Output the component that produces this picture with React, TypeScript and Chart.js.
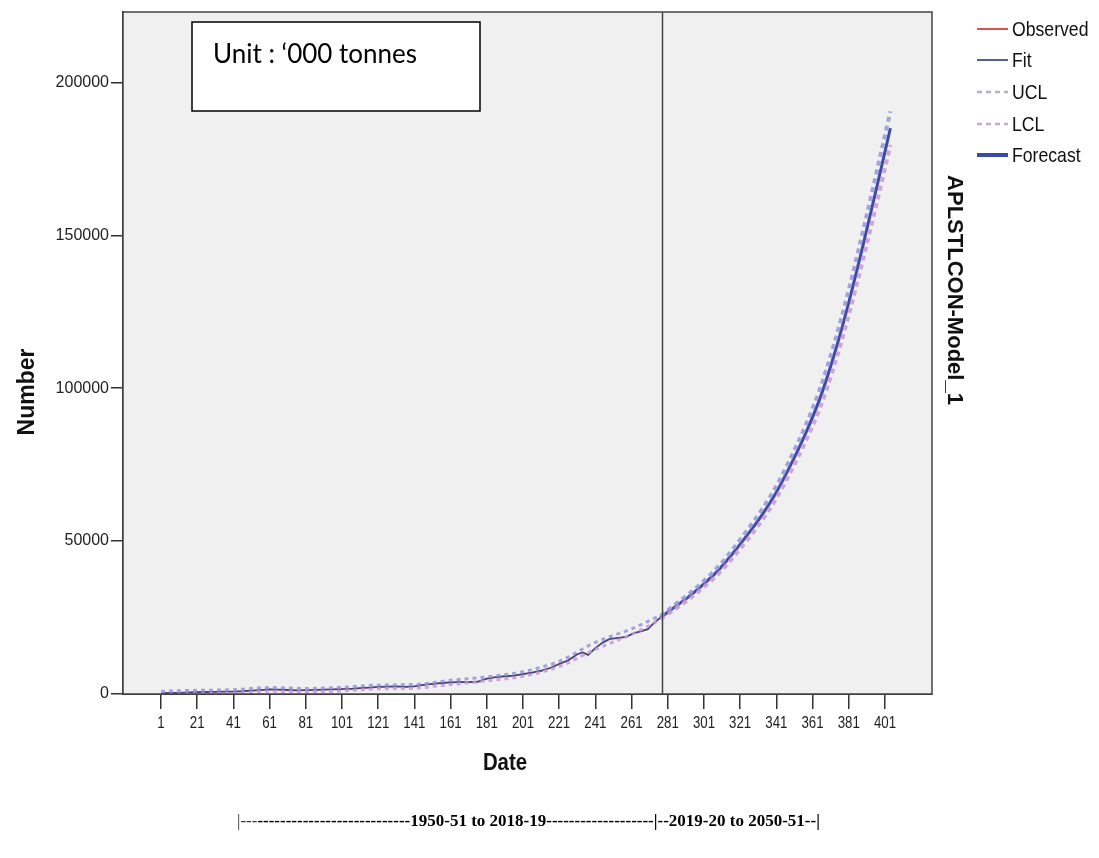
import React, { useEffect, useRef } from "react";
import { Chart, registerables } from "chart.js";
Chart.register(...registerables);

// ---------- data ----------
const obsX = [1, 6, 11, 16, 21, 26, 31, 36, 41, 46, 51, 56, 61, 66, 71, 76, 81, 86, 91, 96, 101, 106, 111, 116, 121, 126, 131, 136, 141, 146, 151, 156, 161, 166, 171, 176, 181, 186, 191, 196, 201, 206, 211, 216, 221, 226, 231, 234, 237, 241, 245, 249, 253, 258, 262, 266, 270, 273, 277];
const obsY = [300, 350, 400, 500, 600, 650, 700, 750, 800, 900, 1100, 1300, 1500, 1400, 1300, 1200, 1250, 1350, 1450, 1500, 1600, 1700, 1900, 2100, 2300, 2400, 2500, 2300, 2500, 3000, 3300, 3600, 3800, 3900, 3900, 4000, 5000, 5500, 5800, 6000, 6500, 7000, 7600, 8500, 9800, 11000, 13000, 13600, 12800, 15000, 16800, 18000, 18300, 18700, 19800, 20500, 21200, 23000, 25000];

const bandHistX = [1, 21, 41, 61, 81, 101, 121, 141, 161, 181, 201, 221, 241, 261, 277];
const uclHist = [900, 1200, 1400, 2100, 1800, 2200, 2900, 3100, 4500, 5600, 7300, 10700, 16900, 21300, 25700];
const lclHist = [0, 100, 300, 900, 700, 1000, 1700, 1900, 3100, 4300, 5800, 9000, 14600, 19500, 24300];

const fcX = [277, 285, 293, 301, 309, 317, 325, 333, 341, 349, 357, 365, 373, 381, 389, 397, 404];
const fcY = [25000, 28500, 32000, 36000, 40500, 46000, 52000, 58500, 66000, 75000, 85000, 96500, 111000, 128000, 147000, 167000, 185000];
const uclFc = [25500, 29200, 32900, 37000, 41700, 47400, 53600, 60300, 68000, 77300, 87600, 99600, 114600, 132100, 151700, 172200, 190500];
const lclFc = [24500, 27800, 31100, 35000, 39300, 44600, 50400, 56700, 64000, 72700, 82400, 93400, 107400, 123900, 142300, 161800, 179500];

const xTicks = [1, 21, 41, 61, 81, 101, 121, 141, 161, 181, 201, 221, 241, 261, 281, 301, 321, 341, 361, 381, 401];
const yTicks = [0, 50000, 100000, 150000, 200000];
const forecastStart = 277.6;

const legendLabels = ["Observed", "Fit", "UCL", "LCL", "Forecast"];
const seriesTitle = "APLSTLCON-Model_1";
const unitText = "Unit : \u2018000 tonnes";
const periodText = "---------------------------1950-51 to 2018-19-------------------|--2019-20 to 2050-51--|";

const pts = (xs: number[], ys: number[]) => xs.map((x, i) => ({ x, y: ys[i] }));

const C_OBS = "#d9534f";
const C_FIT = "#45457a";
const C_UCL = "rgba(150,150,215,0.85)";
const C_LCL = "rgba(200,150,215,0.85)";
const C_FC = "#3b4aa6";
const SANS = '"Liberation Sans", Arial, sans-serif';

function narrowText(ctx: CanvasRenderingContext2D, text: string, x: number, y: number, sx: number) {
  ctx.save();
  ctx.translate(x, y);
  ctx.scale(sx, 1);
  ctx.fillText(text, 0, 0);
  ctx.restore();
}

export default function App() {
  const ref = useRef<HTMLCanvasElement>(null);
  useEffect(() => {
    if (!ref.current) return;
    const overlay = {
      id: "overlay",
      beforeDatasetsDraw(chart: any) {
        const { ctx, chartArea: a } = chart;
        ctx.save();
        ctx.fillStyle = "#f0f0f0";
        ctx.fillRect(a.left, a.top, a.right - a.left, a.bottom - a.top);
        ctx.restore();
      },
      afterDatasetsDraw(chart: any) {
        const { ctx, chartArea: a, scales } = chart;
        ctx.save();
        const vx = Math.round(scales.x.getPixelForValue(forecastStart)) + 0.5;
        ctx.strokeStyle = "#444";
        ctx.lineWidth = 1.5;
        ctx.beginPath();
        ctx.moveTo(vx, a.top);
        ctx.lineTo(vx, a.bottom);
        ctx.stroke();
        ctx.strokeStyle = "#444";
        ctx.lineWidth = 1.5;
        ctx.strokeRect(a.left, a.top, a.right - a.left, a.bottom - a.top);
        // unit box
        ctx.fillStyle = "#ffffff";
        ctx.fillRect(192, 22, 288, 89);
        ctx.strokeStyle = "#000";
        ctx.lineWidth = 1.5;
        ctx.strokeRect(192, 22, 288, 89);
        ctx.fillStyle = "#000";
        ctx.font = "26px Lato";
        ctx.textBaseline = "alphabetic";
        ctx.textAlign = "left";
        ctx.fillText(unitText, 213, 63);
        ctx.restore();
      },
      afterDraw(chart: any) {
        const { ctx, scales } = chart;
        ctx.save();
        // x tick labels (narrow)
        ctx.fillStyle = "#222";
        ctx.font = "17px " + SANS;
        ctx.textAlign = "center";
        ctx.textBaseline = "middle";
        xTicks.forEach((v) => {
          narrowText(ctx, String(v), scales.x.getPixelForValue(v), 723, 0.78);
        });
        // legend
        const ys = [29, 60, 92, 124, 155];
        const styles = [
          { c: C_OBS, w: 2, d: [] as number[] },
          { c: "#55608f", w: 2, d: [] as number[] },
          { c: "#b0b0c8", w: 2.5, d: [5, 4] },
          { c: "#c8a8d0", w: 2.5, d: [5, 4] },
          { c: C_FC, w: 4, d: [] as number[] },
        ];
        legendLabels.forEach((lab, i) => {
          const s = styles[i];
          ctx.strokeStyle = s.c;
          ctx.lineWidth = s.w;
          ctx.setLineDash(s.d);
          ctx.beginPath();
          ctx.moveTo(977, ys[i]);
          ctx.lineTo(1008, ys[i]);
          ctx.stroke();
          ctx.setLineDash([]);
          ctx.fillStyle = "#111";
          ctx.font = "21px " + SANS;
          ctx.textBaseline = "middle";
          ctx.textAlign = "left";
          narrowText(ctx, lab, 1012, ys[i] + 1, 0.84);
        });
        // right series title
        ctx.save();
        ctx.translate(954, 290);
        ctx.rotate(Math.PI / 2);
        ctx.fillStyle = "#111";
        ctx.font = "bold 22px " + SANS;
        ctx.textAlign = "center";
        ctx.textBaseline = "middle";
        ctx.fillText(seriesTitle, 0, 0);
        ctx.restore();
        // y title
        ctx.save();
        ctx.translate(28, 392);
        ctx.rotate(-Math.PI / 2);
        ctx.fillStyle = "#111";
        ctx.font = "bold 23px " + SANS;
        ctx.textAlign = "center";
        ctx.textBaseline = "middle";
        ctx.fillText("Number", 0, 0);
        ctx.restore();
        // x title
        ctx.fillStyle = "#111";
        ctx.font = "bold 24px " + SANS;
        ctx.textAlign = "center";
        ctx.textBaseline = "middle";
        narrowText(ctx, "Date", 505, 763, 0.85);
        // period text
        ctx.textAlign = "left";
        ctx.textBaseline = "middle";
        ctx.font = '17px "Liberation Serif", serif';
        ctx.fillStyle = "#333";
        ctx.fillText("|---", 237, 822);
        const w0 = ctx.measureText("|---").width;
        ctx.font = 'bold 17px "Liberation Serif", serif';
        ctx.fillStyle = "#000";
        ctx.fillText(periodText, 237 + w0, 822);
        ctx.restore();
      },
    };

    const chart = new Chart(ref.current, {
      type: "line",
      data: {
        datasets: [
          { label: "UCLh", data: pts(bandHistX, uclHist), borderColor: C_UCL, borderWidth: 3, borderDash: [4, 4], pointRadius: 0, cubicInterpolationMode: "monotone", order: 1 },
          { label: "LCLh", data: pts(bandHistX, lclHist), borderColor: C_LCL, borderWidth: 3, borderDash: [4, 4], pointRadius: 0, cubicInterpolationMode: "monotone", order: 1 },
          { label: "UCL", data: pts(fcX, uclFc), borderColor: C_UCL, borderWidth: 4, borderDash: [5, 4], pointRadius: 0, cubicInterpolationMode: "monotone", order: 2 },
          { label: "LCL", data: pts(fcX, lclFc), borderColor: C_LCL, borderWidth: 4, borderDash: [5, 4], pointRadius: 0, cubicInterpolationMode: "monotone", order: 2 },
          { label: "Forecast", data: pts(fcX, fcY), borderColor: C_FC, borderWidth: 3, pointRadius: 0, cubicInterpolationMode: "monotone", order: 3 },
          { label: "Fit", data: pts(obsX, obsY), borderColor: C_FIT, borderWidth: 1.8, pointRadius: 0, tension: 0, order: 4 },
          { label: "Observed", data: pts(obsX, obsY), borderColor: C_OBS, borderWidth: 1, pointRadius: 0, tension: 0, order: 5 },
        ] as any,
      },
      options: {
        animation: false,
        responsive: false,
        maintainAspectRatio: false,
        layout: { padding: { left: 0, right: 167, top: 12, bottom: 124 } },
        plugins: { legend: { display: false }, tooltip: { enabled: false } },
        scales: {
          x: {
            type: "linear",
            min: -20,
            max: 427,
            afterBuildTicks: (axis: any) => {
              axis.ticks = xTicks.map((v) => ({ value: v }));
            },
            afterFit: (axis: any) => {
              axis.height = 40;
            },
            ticks: { display: false, autoSkip: false, maxRotation: 0, minRotation: 0 },
            grid: { display: true, drawOnChartArea: false, drawTicks: true, tickLength: 15, color: "#333", lineWidth: 1.5 },
            border: { display: true, color: "#333", width: 2 },
          },
          y: {
            type: "linear",
            min: 0,
            max: 223000,
            afterBuildTicks: (axis: any) => {
              axis.ticks = yTicks.map((v) => ({ value: v }));
            },
            afterFit: (axis: any) => {
              axis.width = 123;
            },
            ticks: {
              padding: 2,
              color: "#222",
              font: { family: SANS, size: 16 },
              callback: (v: any) => String(v),
            },
            grid: { display: true, drawOnChartArea: false, drawTicks: true, tickLength: 12, color: "#333", lineWidth: 1.5 },
            border: { display: true, color: "#333", width: 2 },
          },
        },
      },
      plugins: [overlay],
    });
    return () => chart.destroy();
  }, []);

  return (
    <div style={{ position: "fixed", left: 0, top: 0, width: 1099, height: 858, background: "#fff" }}>
      <canvas ref={ref} width={1099} height={858} style={{ width: 1099, height: 858, display: "block" }} />
    </div>
  );
}
